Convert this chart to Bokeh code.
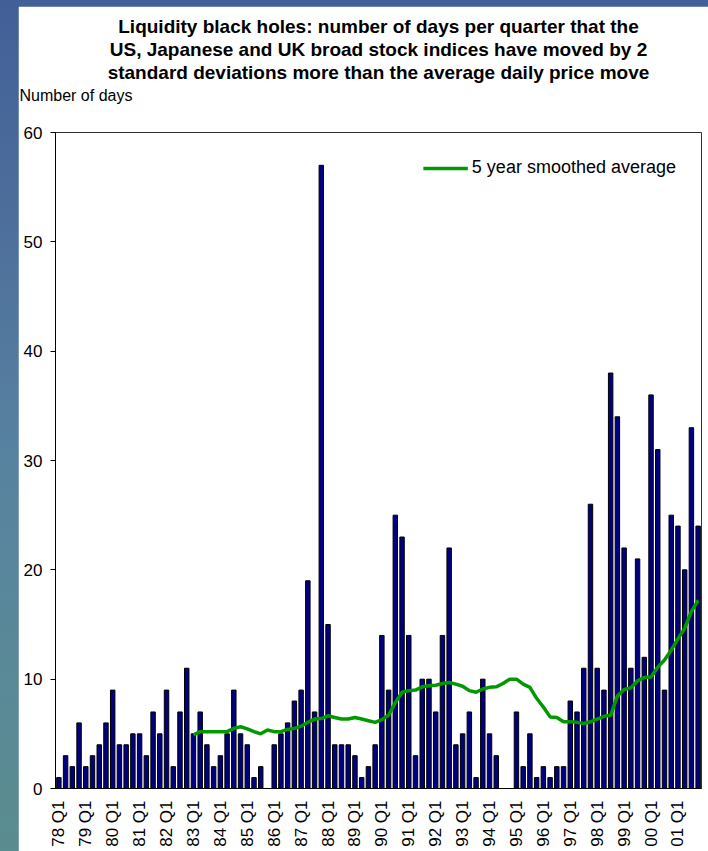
from math import pi
from bokeh.plotting import figure
from bokeh.models import Range1d, FixedTicker, Legend, LegendItem, Title, ColumnDataSource
from bokeh.layouts import column
from bokeh.embed import file_html
from bokeh.resources import INLINE

# ---------------- data ----------------
# quarterly observations 78 Q1 ... 01 Q4 (96 quarters), position index 0..95
days = [1, 3, 2, 6, 2, 3, 4, 6, 9, 4,
        4, 5, 5, 3, 7, 5, 9, 2, 7, 11,
        5, 7, 4, 2, 3, 5, 9, 5, 4, 1,
        2, 0, 4, 5, 6, 8, 9, 19, 7, 57,
        15, 4, 4, 4, 3, 1, 2, 4, 14, 9,
        25, 23, 14, 3, 10, 10, 7, 14, 22, 4,
        5, 7, 1, 10, 5, 3, 0, 0, 7, 2,
        5, 1, 2, 1, 2, 2, 8, 7, 11, 26,
        11, 9, 38, 34, 22, 11, 21, 12, 36, 31,
        9, 25, 24, 20, 33, 24]
quarter_pos = list(range(len(days)))

# 5 year smoothed average, starts at 83 Q1 (position 20)
smooth_pos = list(range(20, 96))
smooth_val = [4.9, 5.2, 5.2, 5.2, 5.2, 5.2, 5.5, 5.65, 5.45, 5.2,
              5.0, 5.35, 5.2, 5.2, 5.4, 5.5, 5.7, 6.05, 6.35, 6.4,
              6.65, 6.5, 6.35, 6.35, 6.5, 6.35, 6.2, 6.05, 6.3, 6.7,
              7.85, 8.8, 8.95, 9.0, 9.3, 9.4, 9.45, 9.6, 9.7, 9.55,
              9.35, 8.95, 8.8, 9.1, 9.25, 9.3, 9.6, 10.0, 10.0, 9.55,
              9.25, 8.25, 7.45, 6.55, 6.5, 6.1, 6.1, 6.05, 5.95, 6.1,
              6.35, 6.6, 6.7, 8.45, 9.05, 9.2, 9.85, 10.15, 10.2, 11.1,
              11.75, 12.65, 13.7, 14.65, 16.2, 17.2]

tick_pos = [0, 4, 8, 12, 16, 20, 24, 28, 32, 36, 40, 44,
            48, 52, 56, 60, 64, 68, 72, 76, 80, 84, 88, 92]
tick_labels = ["78 Q1", "79 Q1", "80 Q1", "81 Q1", "82 Q1", "83 Q1",
               "84 Q1", "85 Q1", "86 Q1", "87 Q1", "88 Q1", "89 Q1",
               "90 Q1", "91 Q1", "92 Q1", "93 Q1", "94 Q1", "95 Q1",
               "96 Q1", "97 Q1", "98 Q1", "99 Q1", "00 Q1", "01 Q1"]

title_lines = ["Liquidity black holes: number of days per quarter that the",
               "US, Japanese and UK broad stock indices have moved by 2",
               "standard deviations more than the average daily price move"]
y_title = "Number of days"
legend_label = "5 year smoothed average"

FONT = "Liberation Sans"

# ---------------- figure ----------------
p = figure(width=690, height=845, output_backend="svg", toolbar_location=None,
           x_range=Range1d(-0.5, 95.5), y_range=Range1d(0, 60),
           min_border_left=37, min_border_right=7, min_border_top=0,
           min_border_bottom=63, border_fill_color="white",
           background_fill_color="white", outline_line_color="#333333",
           outline_line_width=1, title_location=None)
p.margin = (6, 0, 0, 18)

p.xgrid.visible = False
p.ygrid.visible = False

bars_src = ColumnDataSource(dict(x=quarter_pos, top=days))
p.vbar(x="x", top="top", width=0.66, bottom=0, source=bars_src,
       fill_color="#000080", line_color="black", line_width=1)

line_src = ColumnDataSource(dict(x=smooth_pos, y=smooth_val))
lr = p.line(x="x", y="y", source=line_src, line_color="#009a00", line_width=3.5)

# axes
p.yaxis.ticker = FixedTicker(ticks=[0, 10, 20, 30, 40, 50, 60])
p.yaxis.minor_tick_line_color = None
p.yaxis.major_tick_in = 0
p.yaxis.major_tick_out = 5
p.yaxis.major_label_standoff = 8
p.yaxis.major_label_text_font = FONT
p.yaxis.major_label_text_font_size = "17px"
p.yaxis.major_label_text_color = "black"
p.yaxis.axis_line_color = "black"
p.yaxis.major_tick_line_color = "black"

p.xaxis.ticker = FixedTicker(ticks=tick_pos)
p.xaxis.major_label_overrides = {t: l for t, l in zip(tick_pos, tick_labels)}
p.xaxis.major_label_orientation = pi / 2
p.xaxis.major_tick_line_color = None
p.xaxis.minor_tick_line_color = None
p.xaxis.major_tick_out = 0
p.xaxis.major_tick_in = 0
p.xaxis.major_label_standoff = 12
p.xaxis.major_label_text_font = FONT
p.xaxis.major_label_text_font_size = "17px"
p.xaxis.major_label_text_color = "black"
p.xaxis.axis_line_color = "black"

# header texts, stacked upward from the frame
p.add_layout(Title(text=" ", text_font=FONT, text_font_size="15px",
                   standoff=8), "above")
p.add_layout(Title(text=y_title, align="left", offset=-36, text_font=FONT,
                   text_font_size="16px", text_font_style="normal",
                   text_color="black", standoff=4), "above")
for txt in reversed(title_lines):
    p.add_layout(Title(text=txt, align="center", text_font=FONT,
                       text_font_size="19px", text_font_style="bold",
                       text_color="black", standoff=0), "above")
p.add_layout(Title(text=" ", text_font=FONT, text_font_size="4px",
                   standoff=0), "above")

legend = Legend(items=[LegendItem(label=legend_label, renderers=[lr])],
                location="top_right", border_line_color=None,
                background_fill_alpha=0, label_text_font=FONT,
                label_text_color="black",
                label_text_font_size="18px", glyph_width=45, glyph_height=20,
                label_standoff=4, margin=25, padding=10)
p.add_layout(legend)

layout = column(p, width=708, height=851,
                styles={"background": "linear-gradient(to bottom, #425f98 0%, #4d6e9b 25%, #5883a0 55%, #5a8d8f 100%)"})

open("out.html", "w").write(file_html(layout, INLINE))
